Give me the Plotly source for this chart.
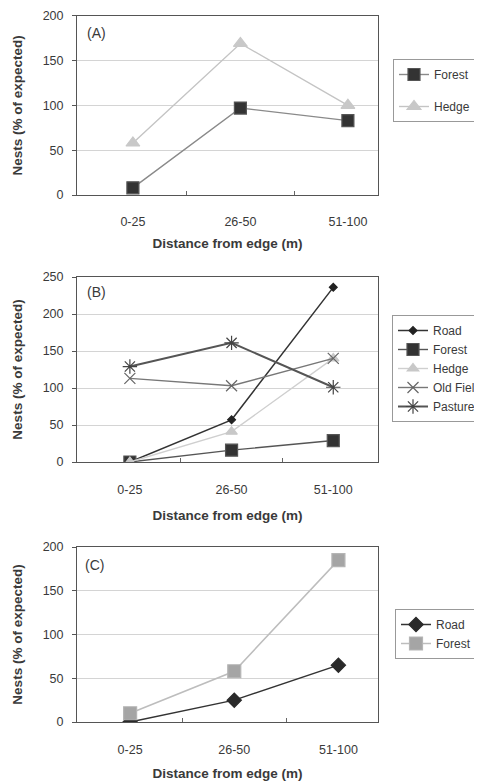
import plotly.graph_objects as go

categories = ["0-25", "26-50", "51-100"]
xpos = [0, 1, 2]

a_forest = [8, 97, 83]
a_hedge = [58, 169, 100]

b_road = [0, 57, 236]
b_forest = [0, 16, 29]
b_hedge = [0, 41, 140]
b_oldfield = [113, 103, 140]
b_pasture = [129, 161, 101]

c_road = [0, 25, 65]
c_forest = [10, 58, 185]

# the page body has an 8px margin, so the figure is sized to fit the window
OFF = 8
W, H = 482 - OFF, 781 - OFF
FONT = "Liberation Sans, Arial, sans-serif"
TXT = "#3a3a3a"

fig = go.Figure()

def add(name, y, xa, ya, legend, color, symbol, size, lw, mcolor=None, mline=None, group=None):
    fig.add_trace(go.Scatter(
        x=xpos, y=y, name=name, mode="lines+markers",
        xaxis=xa, yaxis=ya, legend=legend, legendgroup=group,
        line=dict(color=color, width=lw),
        marker=dict(symbol=symbol, size=size, color=mcolor or color,
                    line=dict(color=mline or (mcolor or color), width=1.2)),
    ))

# Panel A
add("Forest", a_forest, "x", "y", "legend", "#8a8a8a", "square", 12, 1.4, mcolor="#333333", mline="#555555", group="a1")
add("Hedge", a_hedge, "x", "y", "legend", "#c4c4c4", "triangle-up", 12, 1.4, mcolor="#c8c8c8", group="a2")
# Panel B
add("Road", b_road, "x2", "y2", "legend2", "#333333", "diamond", 6, 1.5, mcolor="#222222")
add("Forest", b_forest, "x2", "y2", "legend2", "#555555", "square", 12, 1.4, mcolor="#333333", mline="#555555")
add("Hedge", b_hedge, "x2", "y2", "legend2", "#cfcfcf", "triangle-up", 10, 1.4, mcolor="#c8c8c8")
add("Old Field", b_oldfield, "x2", "y2", "legend2", "#777777", "x-thin-open", 11, 1.4, mcolor="#666666")
add("Pasture", b_pasture, "x2", "y2", "legend2", "#555555", "asterisk-open", 12, 2.0, mcolor="#444444")
# Panel C
add("Road", c_road, "x3", "y3", "legend3", "#333333", "diamond", 11, 1.5, mcolor="#2a2a2a")
add("Forest", c_forest, "x3", "y3", "legend3", "#bdbdbd", "square", 13, 1.5, mcolor="#a5a5a5", mline="#b5b5b5")

def pyd(top, bottom):
    return [1 - (bottom - OFF) / H, 1 - (top - OFF) / H]

def px(x):
    return (x - OFF) / W

def py(y):
    return 1 - (y - OFF) / H

xdom = [px(77), px(378)]
panels = [
    # suffix, y-domain, x-range, y-range, yticks, x ticklabel standoff, x title standoff
    ("", pyd(15.7, 195), [-0.52, 2.28], [0, 200], [0, 50, 100, 150, 200], 15, 10),
    ("2", pyd(277, 462), [-0.52, 2.44], [0, 250], [0, 50, 100, 150, 200, 250], 16, 14),
    ("3", pyd(547, 722), [-0.51, 2.38], [0, 200], [0, 50, 100, 150, 200], 16, 17),
]

layout = dict(
    width=W, height=H,
    margin=dict(l=0, r=0, t=0, b=0, autoexpand=False),
    paper_bgcolor="white", plot_bgcolor="white",
    font=dict(family=FONT, color=TXT, size=12),
)

for suf, ydom, xr, yr, yt, xts, xtt in panels:
    layout["xaxis" + suf] = dict(
        domain=xdom, anchor="y" + suf, range=xr,
        tickmode="array", tickvals=xpos, ticktext=categories,
        showgrid=False, zeroline=False,
        showline=True, linecolor="#555555", linewidth=1, mirror=True,
        ticks="", ticklabelstandoff=xts,
        minor=dict(tickmode="array", tickvals=[0.5, 1.5], ticks="inside",
                   ticklen=4, tickcolor="#666666", showgrid=False),
        tickfont=dict(size=12.5, color=TXT),
        title=dict(text="<b>Distance from edge (m)</b>", font=dict(size=13.5, color=TXT), standoff=xtt),
    )
    layout["yaxis" + suf] = dict(
        domain=ydom, anchor="x" + suf, range=yr,
        tickmode="array", tickvals=yt,
        showgrid=True, gridcolor="#d4d4d4", gridwidth=1, zeroline=False,
        showline=True, linecolor="#555555", linewidth=1, mirror=True,
        ticks="outside", ticklen=4, tickcolor="#555555", ticklabelstandoff=6,
        tickfont=dict(size=12.5, color=TXT),
        title=dict(text="<b>Nests (% of expected)</b>", font=dict(size=13.5, color=TXT), standoff=16),
    )

leg_common = dict(
    bgcolor="white", bordercolor="#999999", borderwidth=1,
    font=dict(size=12, color=TXT), xanchor="left", yanchor="top",
    itemwidth=30,
)
layout["legend"] = dict(leg_common, x=px(393), y=py(59), tracegroupgap=13)
layout["legend2"] = dict(leg_common, x=px(392), y=py(315), tracegroupgap=0)
layout["legend3"] = dict(leg_common, x=px(395), y=py(609), tracegroupgap=0)

layout["annotations"] = [
    dict(text=t, x=px(xx), y=py(yy), xref="paper", yref="paper",
         xanchor="left", yanchor="middle", showarrow=False,
         font=dict(size=14, color=TXT, family=FONT))
    for t, xx, yy in [("(A)", 85, 33), ("(B)", 85, 291.5), ("(C)", 83, 565)]
]

fig.update_layout(**layout)
fig.write_html("out.html")
